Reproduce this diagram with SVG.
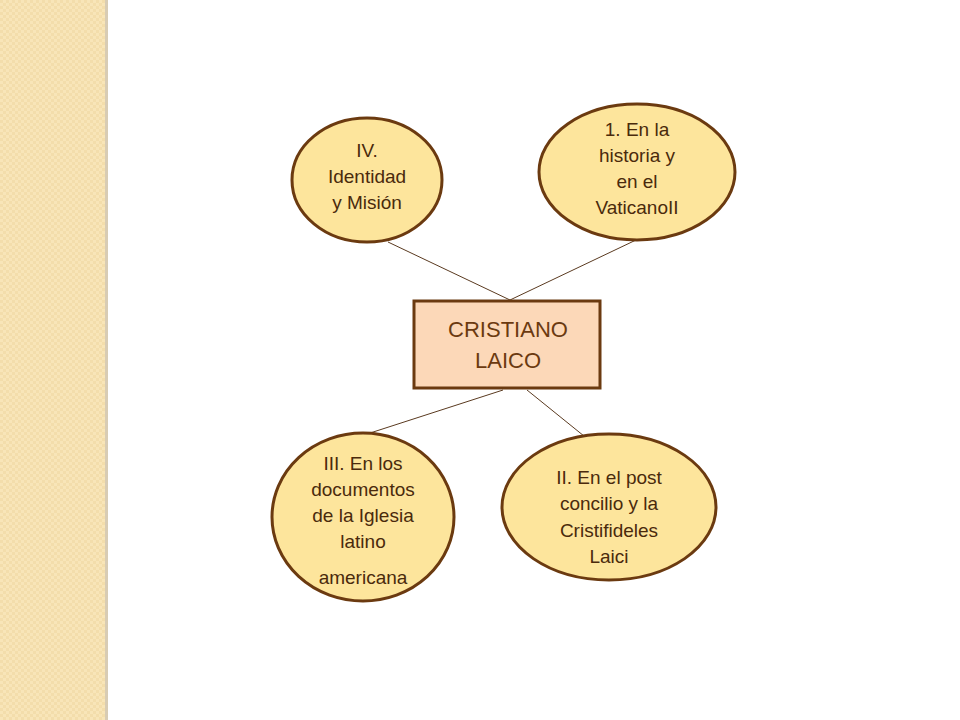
<svg xmlns="http://www.w3.org/2000/svg" width="960" height="720" viewBox="0 0 960 720">
<defs>
<pattern id="chk" width="6" height="6" patternUnits="userSpaceOnUse"><rect width="6" height="6" fill="#f8e5b8"/><rect width="3" height="3" fill="#f3ddab"/><rect x="3" y="3" width="3" height="3" fill="#f3ddab"/></pattern>
</defs>
<style>
.e{fill:#fde59c;stroke:#6b3a10;stroke-width:3}
.t{font-family:"Liberation Sans",sans-serif;font-size:19px;fill:#4a2a0c;text-anchor:middle}
.c line{stroke:#5a3a20;stroke-width:1}
</style>
<rect width="960" height="720" fill="#fff"/>
<rect x="0" y="0" width="105" height="720" fill="url(#chk)"/>
<rect x="105" y="0" width="3" height="720" fill="#d8ccb4"/>
<g class="c" id="connectors">
<line x1="388" y1="242" x2="510" y2="300"/>
<line x1="636" y1="240" x2="510" y2="300"/>
<line x1="503" y1="390" x2="333" y2="445"/>
<line x1="527" y1="390" x2="605" y2="453"/>
</g>
<g id="center"><rect x="414" y="301" width="186" height="87" fill="#fcd8b8" stroke="#6b3a10" stroke-width="3"/>
<text class="t" font-size="22" style="font-size:22px;fill:#6b3a10"><tspan x="508" y="337">CRISTIANO</tspan><tspan x="508" y="368">LAICO</tspan></text></g>
<g id="n4"><ellipse class="e" cx="367" cy="180" rx="75" ry="62"/>
<text class="t"><tspan x="367" y="157">IV.</tspan><tspan x="367" y="183">Identidad</tspan><tspan x="367" y="209">y Misión</tspan></text></g>
<g id="n1"><ellipse class="e" cx="637" cy="172" rx="98" ry="68"/>
<text class="t"><tspan x="637" y="136">1. En la</tspan><tspan x="637" y="162">historia y</tspan><tspan x="637" y="188">en el</tspan><tspan x="637" y="214">VaticanoII</tspan></text></g>
<g id="n3"><ellipse class="e" cx="363" cy="517" rx="91" ry="84"/>
<text class="t"><tspan x="363" y="470">III. En los</tspan><tspan x="363" y="496">documentos</tspan><tspan x="363" y="522">de la Iglesia</tspan><tspan x="363" y="548">latino</tspan><tspan x="363" y="584">americana</tspan></text></g>
<g id="n2"><ellipse class="e" cx="609" cy="507" rx="107" ry="73"/>
<text class="t"><tspan x="609" y="484">II. En el post</tspan><tspan x="609" y="510">concilio y la</tspan><tspan x="609" y="537">Cristifideles</tspan><tspan x="609" y="563">Laici</tspan></text></g>
</svg>
